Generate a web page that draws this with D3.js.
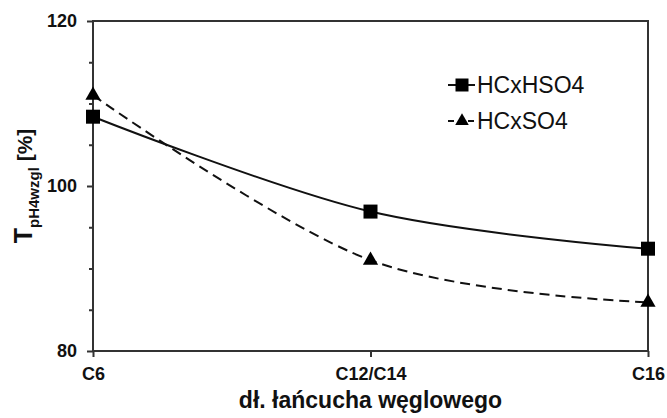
<!DOCTYPE html>
<html>
<head>
<meta charset="utf-8">
<script src="https://cdn.jsdelivr.net/npm/d3@7"></script>
<style>
  body { margin: 0; background: #fff; }
  text { font-family: "Liberation Sans", Arial, sans-serif; fill: #111; }
</style>
</head>
<body>
<div id="chart"></div>
<script>
'use strict';

// data
const categories = ["C6", "C12/C14", "C16"];
const hsoValues = [108.4, 96.9, 92.4];
const soValues = [111.0, 91.0, 85.9];
const seriesNames = ["HCxHSO4", "HCxSO4"];
const yMajorTicks = [80, 100, 120];
const yMinorTicks = [85, 90, 95, 105, 110, 115];

const width = 667, height = 418;
const margin = {left: 93, right: 19, top: 21, bottom: 67};
const plotW = width - margin.left - margin.right;
const plotH = height - margin.top - margin.bottom;

const svg = d3.select("#chart").append("svg")
    .attr("width", width)
    .attr("height", height);

const x = d3.scalePoint().domain(categories).range([0, plotW]);
const y = d3.scaleLinear().domain([80, 120]).range([plotH, 0]);

const g = svg.append("g").attr("transform", `translate(${margin.left},${margin.top})`);

// frame
g.append("rect")
    .attr("x", 0).attr("y", 0)
    .attr("width", plotW).attr("height", plotH)
    .style("fill", "none")
    .style("stroke", "#333")
    .style("stroke-width", 2);

// y axis
const yAxis = g.append("g")
    .call(d3.axisLeft(y).tickValues(yMajorTicks).tickSize(6).tickPadding(10).tickFormat(d3.format("d")));
yAxis.select(".domain").remove();
yAxis.selectAll("line").style("stroke", "#333").style("stroke-width", 2);
yAxis.selectAll("text")
    .style("font-size", "18px").style("font-weight", "bold");

const yMinor = g.append("g")
    .call(d3.axisLeft(y).tickValues(yMinorTicks).tickSize(4).tickFormat(""));
yMinor.select(".domain").remove();
yMinor.selectAll("line").style("stroke", "#333").style("stroke-width", 2);

// x axis
const xAxis = g.append("g")
    .attr("transform", `translate(0,${plotH})`)
    .call(d3.axisBottom(x).tickSize(6).tickPadding(10));
xAxis.select(".domain").remove();
xAxis.selectAll("line").style("stroke", "#333").style("stroke-width", 2);
xAxis.selectAll("text")
    .style("font-size", "18px").style("font-weight", "bold");

// axis titles
svg.append("text")
    .attr("x", margin.left + plotW / 2)
    .attr("y", 408)
    .attr("text-anchor", "middle")
    .style("font-size", "23px").style("font-weight", "bold")
    .text("dł. łańcucha węglowego");

const yTitle = svg.append("text")
    .attr("transform", `translate(32,${margin.top + plotH / 2}) rotate(-90)`)
    .attr("text-anchor", "middle")
    .style("font-weight", "bold");
yTitle.append("tspan").style("font-size", "25px").text("T");
yTitle.append("tspan").style("font-size", "15px").attr("dy", 7).text("pH4wzgl");
yTitle.append("tspan").style("font-size", "21px").attr("dy", -7).text(" [%]");

// lines
const line = d3.line()
    .x((d, i) => x(categories[i]))
    .y(d => y(d))
    .curve(d3.curveCardinal.tension(0));

g.append("path")
    .datum(hsoValues)
    .attr("d", line)
    .style("fill", "none")
    .style("stroke", "#111")
    .style("stroke-width", 2);

g.append("path")
    .datum(soValues)
    .attr("d", line)
    .style("fill", "none")
    .style("stroke", "#111")
    .style("stroke-width", 2)
    .style("stroke-dasharray", "10,6");

const square = d3.symbol().type(d3.symbolSquare).size(196);
const triangle = d3.symbol().type(d3.symbolTriangle).size(100);

g.selectAll(".sq").data(hsoValues).enter().append("path")
    .attr("class", "sq")
    .attr("transform", (d, i) => `translate(${x(categories[i])},${y(d)})`)
    .attr("d", square)
    .style("fill", "#000");

g.selectAll(".tri").data(soValues).enter().append("path")
    .attr("class", "tri")
    .attr("transform", (d, i) => `translate(${x(categories[i])},${y(d)})`)
    .attr("d", triangle)
    .style("fill", "#000");

// legend
const legend = svg.append("g").attr("transform", "translate(448,85)");
const items = [{name: seriesNames[0], sym: d3.symbol().type(d3.symbolSquare).size(169), dash: null},
    {name: seriesNames[1], sym: d3.symbol().type(d3.symbolTriangle).size(80), dash: "6,4"}];
items.forEach(function(it, i){
    const row = legend.append("g").attr("transform", `translate(0,${i * 36})`);
    row.append("line")
        .attr("x1", 0).attr("x2", 27)
        .style("stroke", "#111").style("stroke-width", 2)
        .style("stroke-dasharray", it.dash);
    row.append("path")
        .attr("transform", "translate(14,0)")
        .attr("d", it.sym)
        .style("fill", "#000");
    row.append("text")
        .attr("x", 29).attr("dy", "0.36em")
        .style("font-size", "23px")
        .text(it.name);
});
</script>
</body>
</html>
